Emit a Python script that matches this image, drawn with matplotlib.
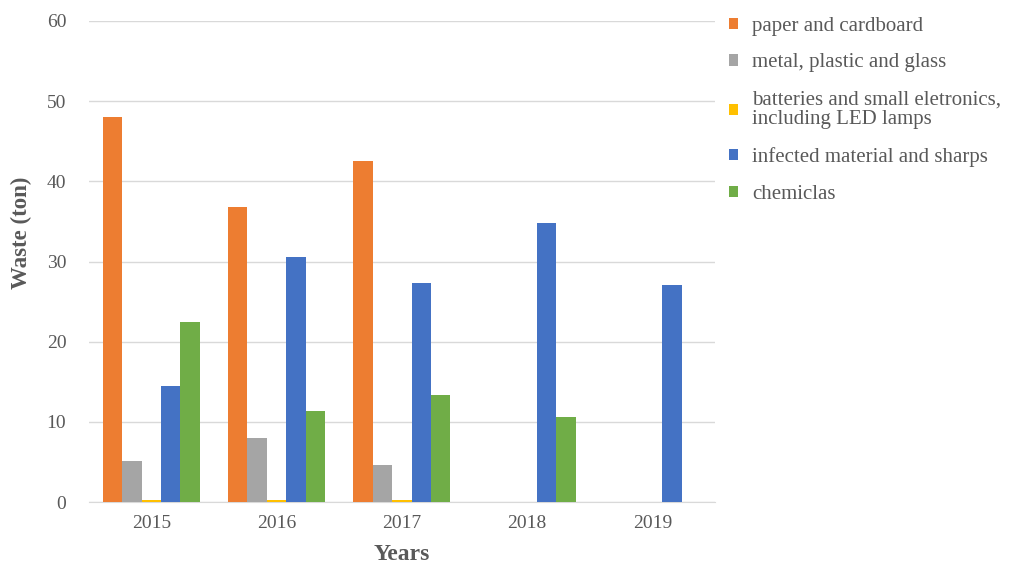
import matplotlib.pyplot as plt
import numpy as np
from matplotlib.patches import Patch

plt.rcParams['font.family'] = ['Liberation Serif', 'DejaVu Serif']

years = ['2015', '2016', '2017', '2018', '2019']
paper = [48.0, 36.8, 42.5, np.nan, np.nan]
metal = [5.1, 8.0, 4.6, np.nan, np.nan]
batteries = [0.3, 0.3, 0.3, np.nan, np.nan]
infected = [14.5, 30.5, 27.3, 34.8, 27.1]
chemicals = [22.5, 11.4, 13.3, 10.6, np.nan]

labels = ['paper and cardboard', 'metal, plastic and glass',
          'batteries and small eletronics,\nincluding LED lamps',
          'infected material and sharps', 'chemiclas']
colors = ['#ED7D31', '#A5A5A5', '#FFC000', '#4472C4', '#70AD47']
series = [paper, metal, batteries, infected, chemicals]

fig = plt.figure(figsize=(10.19, 5.67), dpi=100)
ax = fig.add_axes([0.0869, 0.1146, 0.615, 0.8484])

x = np.arange(len(years))
w = 0.155
for i, (vals, c) in enumerate(zip(series, colors)):
    ax.bar(x + (i - 2) * w, vals, width=w, color=c, zorder=3)

ax.set_xlim(-0.5, 4.5)
ax.set_ylim(0, 60)
ax.set_yticks(range(0, 61, 10))
ax.set_xticks(x)
ax.set_xticklabels(years)
ax.grid(axis='y', color='#d9d9d9', linewidth=1, zorder=0)
for s in ['top', 'right', 'left']:
    ax.spines[s].set_visible(False)
ax.spines['bottom'].set_color('#d9d9d9')
ax.tick_params(axis='both', length=0, labelsize=14, labelcolor='#595959')
ax.tick_params(axis='y', pad=16)
ax.tick_params(axis='x', pad=9)
ax.set_ylabel('Waste (ton)', fontsize=16.5, fontweight='bold', color='#595959')
ax.yaxis.set_label_coords(-0.09, 0.56)
ax.set_xlabel('Years', fontsize=17, fontweight='bold', color='#595959', labelpad=9)

handles = [Patch(facecolor=c, label=l) for c, l in zip(colors, labels)]
leg = fig.legend(handles=handles, loc='upper left', bbox_to_anchor=(0.699, 1.0),
                 frameon=False, fontsize=15, labelcolor='#595959', borderpad=0.3,
                 handlelength=0.45, handleheight=0.45, handletextpad=0.65,
                 labelspacing=0.85)
for t in leg.get_texts():
    t.set_linespacing(1.1)

fig.savefig('out.png', dpi=100)
